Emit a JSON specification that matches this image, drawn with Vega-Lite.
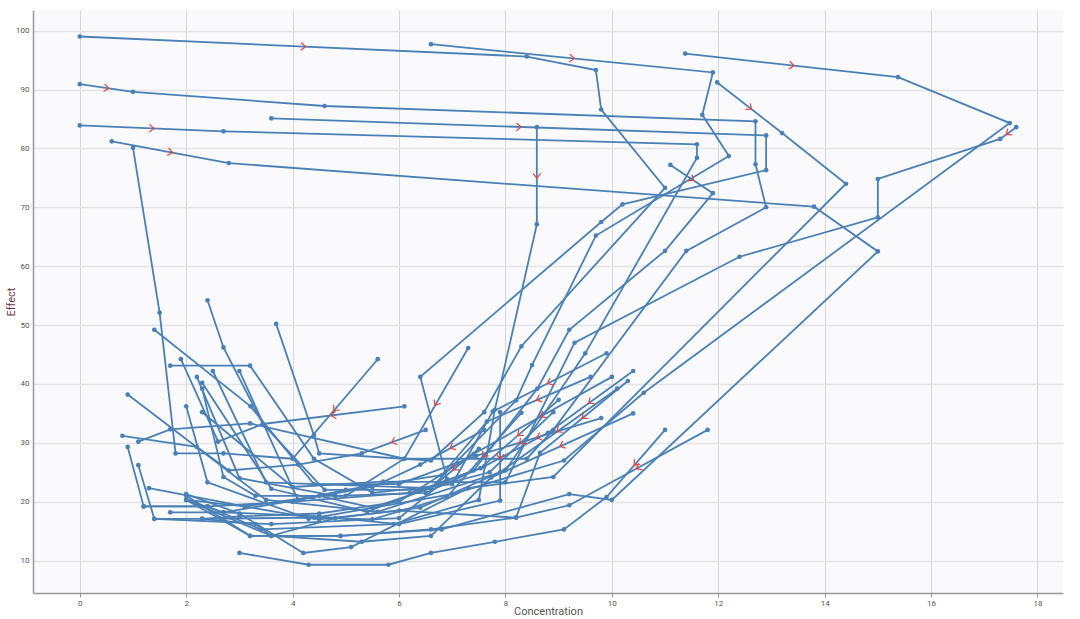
{
"$schema": "https://vega.github.io/schema/vega-lite/v6.json",
"width": 1030, "height": 583,
"autosize": {"type": "none"},
"padding": {"left": 33, "top": 10, "right": 17, "bottom": 26},
"background": "white",
"config": {
  "view": {"fill": "#fafafd", "stroke": null},
  "font": "Roboto",
  "axis": {"labelFont": "Roboto", "titleFont": "Roboto", "titleFontWeight": "normal"}
},
"datasets": {
"traj": [
{"s":"U1","i":0,"c":0,"e":99},{"s":"U1","i":1,"c":8.4,"e":95.6},{"s":"U1","i":2,"c":9.7,"e":93.3},{"s":"U1","i":3,"c":9.8,"e":86.6},{"s":"U1","i":4,"c":11.0,"e":73.3},{"s":"U1","i":5,"c":8.3,"e":46.4},{"s":"U1","i":6,"c":7.6,"e":35.2},{"s":"U1","i":7,"c":6.6,"e":27.0},{"s":"U1","i":8,"c":4.5,"e":28.2},{"s":"U1","i":9,"c":4.4,"e":31.3},{"s":"U1","i":10,"c":3.69,"e":50.2},
{"s":"U2","i":0,"c":6.6,"e":97.7},{"s":"U2","i":1,"c":11.9,"e":92.9},{"s":"U2","i":2,"c":11.7,"e":85.7},{"s":"U2","i":3,"c":12.2,"e":78.7},{"s":"U2","i":4,"c":9.7,"e":65.2},{"s":"U2","i":5,"c":8.5,"e":43.2},{"s":"U2","i":6,"c":8.2,"e":37.2},{"s":"U2","i":7,"c":6.6,"e":22.3},{"s":"U2","i":8,"c":3.5,"e":23.3},{"s":"U2","i":9,"c":2.5,"e":42.2},
{"s":"U3","i":0,"c":11.38,"e":96.1},{"s":"U3","i":1,"c":15.38,"e":92.1},{"s":"U3","i":2,"c":17.48,"e":84.3},{"s":"U3","i":3,"c":10.6,"e":38.5},{"s":"U3","i":4,"c":9.1,"e":27.0},{"s":"U3","i":5,"c":7.0,"e":21.3},{"s":"U3","i":6,"c":4.3,"e":17.1},{"s":"U3","i":7,"c":2.4,"e":23.3},{"s":"U3","i":8,"c":2.0,"e":36.2},
{"s":"U4","i":0,"c":17.6,"e":83.6},{"s":"U4","i":1,"c":17.3,"e":81.6},{"s":"U4","i":2,"c":15.0,"e":74.8},{"s":"U4","i":3,"c":15.0,"e":68.3},{"s":"U4","i":4,"c":12.4,"e":61.6},{"s":"U4","i":5,"c":9.3,"e":47.0},{"s":"U4","i":6,"c":8.0,"e":23.3},{"s":"U4","i":7,"c":5.7,"e":23.4},{"s":"U4","i":8,"c":4.0,"e":22.5},{"s":"U4","i":9,"c":2.3,"e":35.2},
{"s":"U5","i":0,"c":0,"e":90.9},{"s":"U5","i":1,"c":1.0,"e":89.6},{"s":"U5","i":2,"c":4.6,"e":87.2},{"s":"U5","i":3,"c":12.7,"e":84.6},{"s":"U5","i":4,"c":12.7,"e":77.3},{"s":"U5","i":5,"c":12.9,"e":70.0},{"s":"U5","i":6,"c":11.4,"e":62.6},{"s":"U5","i":7,"c":8.9,"e":32.2},{"s":"U5","i":8,"c":8.4,"e":27.3},{"s":"U5","i":9,"c":6.1,"e":27.3},{"s":"U5","i":10,"c":3.2,"e":33.3},{"s":"U5","i":11,"c":1.7,"e":32.3},{"s":"U5","i":12,"c":1.1,"e":30.2},
{"s":"U6","i":0,"c":0,"e":83.9},{"s":"U6","i":1,"c":2.7,"e":82.9},{"s":"U6","i":2,"c":11.6,"e":80.7},{"s":"U6","i":3,"c":11.6,"e":78.4},{"s":"U6","i":4,"c":9.5,"e":45.2},{"s":"U6","i":5,"c":8.0,"e":25.3},{"s":"U6","i":6,"c":5.6,"e":18.3},{"s":"U6","i":7,"c":3.5,"e":20.3},{"s":"U6","i":8,"c":0.9,"e":38.2},
{"s":"U7","i":0,"c":3.6,"e":85.1},{"s":"U7","i":1,"c":12.9,"e":82.2},{"s":"U7","i":2,"c":12.9,"e":76.3},{"s":"U7","i":3,"c":10.2,"e":70.5},{"s":"U7","i":4,"c":9.8,"e":67.5},{"s":"U7","i":5,"c":6.4,"e":41.2},{"s":"U7","i":6,"c":6.9,"e":23.9},{"s":"U7","i":7,"c":6.0,"e":17.2},{"s":"U7","i":8,"c":3.6,"e":16.2},{"s":"U7","i":9,"c":1.4,"e":17.1},{"s":"U7","i":10,"c":1.1,"e":26.2},
{"s":"U8","i":0,"c":8.59,"e":83.6},{"s":"U8","i":1,"c":8.59,"e":67.1},{"s":"U8","i":2,"c":7.8,"e":35.6},{"s":"U8","i":3,"c":7.5,"e":20.3},{"s":"U8","i":4,"c":5.9,"e":16.2},{"s":"U8","i":5,"c":3.4,"e":15.3},{"s":"U8","i":6,"c":2.4,"e":19.2},{"s":"U8","i":7,"c":1.2,"e":19.2},{"s":"U8","i":8,"c":0.9,"e":29.3},
{"s":"U9","i":0,"c":0.6,"e":81.2},{"s":"U9","i":1,"c":2.8,"e":77.5},{"s":"U9","i":2,"c":13.8,"e":70.1},{"s":"U9","i":3,"c":15.0,"e":62.5},{"s":"U9","i":4,"c":10.0,"e":20.3},{"s":"U9","i":5,"c":9.2,"e":21.3},{"s":"U9","i":6,"c":6.8,"e":15.3},{"s":"U9","i":7,"c":4.9,"e":14.2},{"s":"U9","i":8,"c":3.2,"e":14.2},{"s":"U9","i":9,"c":2.0,"e":20.3},
{"s":"U10","i":0,"c":11.98,"e":91.2},{"s":"U10","i":1,"c":13.2,"e":82.6},{"s":"U10","i":2,"c":14.4,"e":74.0},{"s":"U10","i":3,"c":8.9,"e":24.2},{"s":"U10","i":4,"c":7.3,"e":22.3},{"s":"U10","i":5,"c":5.1,"e":12.3},{"s":"U10","i":6,"c":4.2,"e":11.3},{"s":"U10","i":7,"c":3.0,"e":18.0},{"s":"U10","i":8,"c":2.0,"e":21.3},
{"s":"U11","i":0,"c":11.1,"e":77.2},{"s":"U11","i":1,"c":11.9,"e":72.4},{"s":"U11","i":2,"c":11.0,"e":62.6},{"s":"U11","i":3,"c":9.2,"e":49.2},{"s":"U11","i":4,"c":8.6,"e":39.2},{"s":"U11","i":5,"c":7.4,"e":25.3},{"s":"U11","i":6,"c":5.4,"e":18.3},{"s":"U11","i":7,"c":3.6,"e":22.2},{"s":"U11","i":8,"c":2.3,"e":40.2},
{"s":"L1","i":0,"c":6.1,"e":36.2},{"s":"L1","i":1,"c":3.44,"e":33.2},{"s":"L1","i":2,"c":2.6,"e":30.2},{"s":"L1","i":3,"c":1.9,"e":44.2},
{"s":"L20","i":0,"c":5.6,"e":44.2},{"s":"L20","i":1,"c":4.0,"e":27.3},{"s":"L20","i":2,"c":2.7,"e":28.2},{"s":"L20","i":3,"c":1.8,"e":28.2},{"s":"L20","i":4,"c":1.5,"e":52.1},{"s":"L20","i":5,"c":1.0,"e":80.1},
{"s":"L2","i":0,"c":6.5,"e":32.2},{"s":"L2","i":1,"c":5.3,"e":28.2},{"s":"L2","i":2,"c":4.1,"e":26.3},{"s":"L2","i":3,"c":2.8,"e":25.3},{"s":"L2","i":4,"c":2.2,"e":29.3},{"s":"L2","i":5,"c":0.8,"e":31.2},
{"s":"L3","i":0,"c":7.3,"e":46.1},{"s":"L3","i":1,"c":6.1,"e":27.3},{"s":"L3","i":2,"c":5.0,"e":21.0},{"s":"L3","i":3,"c":3.3,"e":21.0},{"s":"L3","i":4,"c":2.7,"e":24.2},{"s":"L3","i":5,"c":2.3,"e":39.2},
{"s":"L4","i":0,"c":7.6,"e":32.2},{"s":"L4","i":1,"c":6.4,"e":26.3},{"s":"L4","i":2,"c":5.5,"e":22.5},{"s":"L4","i":3,"c":4.1,"e":20.3},{"s":"L4","i":4,"c":2.7,"e":18.2},{"s":"L4","i":5,"c":1.7,"e":18.2},
{"s":"L5","i":0,"c":7.5,"e":29.0},{"s":"L5","i":1,"c":6.6,"e":22.3},{"s":"L5","i":2,"c":5.5,"e":19.0},{"s":"L5","i":3,"c":4.5,"e":21.0},{"s":"L5","i":4,"c":3.1,"e":19.2},{"s":"L5","i":5,"c":1.3,"e":22.3},
{"s":"L6","i":0,"c":8.3,"e":35.1},{"s":"L6","i":1,"c":6.9,"e":20.8},{"s":"L6","i":2,"c":5.5,"e":17.0},{"s":"L6","i":3,"c":4.4,"e":17.3},{"s":"L6","i":4,"c":2.3,"e":17.1},{"s":"L6","i":5,"c":1.4,"e":17.1},
{"s":"L7","i":0,"c":7.9,"e":35.2},{"s":"L7","i":1,"c":7.9,"e":20.2},{"s":"L7","i":2,"c":6.0,"e":16.2},{"s":"L7","i":3,"c":4.5,"e":17.5},{"s":"L7","i":4,"c":2.7,"e":18.2},{"s":"L7","i":5,"c":2.0,"e":20.3},
{"s":"L8","i":0,"c":9.0,"e":37.3},{"s":"L8","i":1,"c":7.53,"e":25.7},{"s":"L8","i":2,"c":6.4,"e":22.0},{"s":"L8","i":3,"c":4.6,"e":22.0},{"s":"L8","i":4,"c":3.44,"e":33.2},{"s":"L8","i":5,"c":2.7,"e":46.2},{"s":"L8","i":6,"c":2.4,"e":54.2},
{"s":"L9","i":0,"c":8.9,"e":35.2},{"s":"L9","i":1,"c":7.7,"e":25.0},{"s":"L9","i":2,"c":6.2,"e":21.5},{"s":"L9","i":3,"c":4.0,"e":20.0},{"s":"L9","i":4,"c":2.4,"e":19.2},{"s":"L9","i":5,"c":1.2,"e":19.2},
{"s":"L10","i":0,"c":9.8,"e":34.2},{"s":"L10","i":1,"c":7.45,"e":27.8},{"s":"L10","i":2,"c":6.0,"e":23.0},{"s":"L10","i":3,"c":4.4,"e":23.0},{"s":"L10","i":4,"c":3.21,"e":36.2},{"s":"L10","i":5,"c":1.4,"e":49.2},
{"s":"L11","i":0,"c":9.6,"e":41.2},{"s":"L11","i":1,"c":7.65,"e":33.6},{"s":"L11","i":2,"c":6.8,"e":24.5},{"s":"L11","i":3,"c":5.0,"e":22.0},{"s":"L11","i":4,"c":4.1,"e":20.3},{"s":"L11","i":5,"c":3.0,"e":42.2},
{"s":"L12","i":0,"c":10.0,"e":41.2},{"s":"L12","i":1,"c":7.4,"e":28.1},{"s":"L12","i":2,"c":6.0,"e":20.0},{"s":"L12","i":3,"c":4.5,"e":18.0},{"s":"L12","i":4,"c":3.0,"e":17.5},{"s":"L12","i":5,"c":2.3,"e":17.1},
{"s":"L13","i":0,"c":9.9,"e":45.2},{"s":"L13","i":1,"c":7.76,"e":35.3},{"s":"L13","i":2,"c":7.0,"e":23.0},{"s":"L13","i":3,"c":5.5,"e":21.5},{"s":"L13","i":4,"c":4.4,"e":27.3},{"s":"L13","i":5,"c":3.2,"e":43.1},{"s":"L13","i":6,"c":1.7,"e":43.1},
{"s":"L14","i":0,"c":10.1,"e":39.2},{"s":"L14","i":1,"c":7.9,"e":25.0},{"s":"L14","i":2,"c":6.4,"e":19.0},{"s":"L14","i":3,"c":4.8,"e":17.2},{"s":"L14","i":4,"c":3.6,"e":14.2},{"s":"L14","i":5,"c":3.3,"e":16.2},{"s":"L14","i":6,"c":2.3,"e":17.1},
{"s":"L15","i":0,"c":10.4,"e":35.0},{"s":"L15","i":1,"c":7.73,"e":24.1},{"s":"L15","i":2,"c":6.6,"e":14.2},{"s":"L15","i":3,"c":5.3,"e":13.2},{"s":"L15","i":4,"c":3.6,"e":14.2},{"s":"L15","i":5,"c":2.0,"e":20.3},
{"s":"L16","i":0,"c":10.3,"e":40.5},{"s":"L16","i":1,"c":8.65,"e":28.3},{"s":"L16","i":2,"c":8.2,"e":17.3},{"s":"L16","i":3,"c":6.6,"e":15.3},{"s":"L16","i":4,"c":4.9,"e":14.2},{"s":"L16","i":5,"c":3.2,"e":14.2},{"s":"L16","i":6,"c":2.0,"e":21.0},
{"s":"L17","i":0,"c":10.4,"e":42.2},{"s":"L17","i":1,"c":8.8,"e":31.7},{"s":"L17","i":2,"c":7.6,"e":26.0},{"s":"L17","i":3,"c":6.5,"e":21.5},{"s":"L17","i":4,"c":4.8,"e":21.0},{"s":"L17","i":5,"c":3.0,"e":24.0},{"s":"L17","i":6,"c":2.2,"e":41.2},
{"s":"L18","i":0,"c":11.0,"e":32.2},{"s":"L18","i":1,"c":9.9,"e":20.8},{"s":"L18","i":2,"c":9.1,"e":15.3},{"s":"L18","i":3,"c":7.8,"e":13.2},{"s":"L18","i":4,"c":6.6,"e":11.3},{"s":"L18","i":5,"c":5.8,"e":9.3},{"s":"L18","i":6,"c":4.3,"e":9.3},{"s":"L18","i":7,"c":3.0,"e":11.3},
{"s":"L19","i":0,"c":11.8,"e":32.2},{"s":"L19","i":1,"c":9.2,"e":19.4},{"s":"L19","i":2,"c":8.2,"e":17.3},{"s":"L19","i":3,"c":6.0,"e":18.5},{"s":"L19","i":4,"c":4.5,"e":17.0},{"s":"L19","i":5,"c":3.1,"e":19.2},{"s":"L19","i":6,"c":2.0,"e":20.3}
],
"arrows": [
{"c":4.2,"e":97.3,"a":2.6},{"c":9.25,"e":95.3,"a":5.7},{"c":13.38,"e":94.1,"a":6.3},{"c":17.45,"e":82.6,"a":143.6},
{"c":0.5,"e":90.25,"a":8.2},{"c":1.35,"e":83.4,"a":2.3},{"c":8.25,"e":83.65,"a":2.0},{"c":8.59,"e":75.35,"a":90},
{"c":1.7,"e":79.35,"a":10.5},{"c":12.59,"e":86.9,"a":38},{"c":11.5,"e":74.8,"a":33.6},
{"c":4.77,"e":34.7,"a":172.9},{"c":4.8,"e":35.75,"a":130.5},{"c":5.9,"e":30.2,"a":159.7},{"c":6.7,"e":36.7,"a":119.9},
{"c":7.0,"e":29.25,"a":151.4},{"c":7.05,"e":25.65,"a":140.4},{"c":7.6,"e":27.95,"a":131.5},{"c":7.9,"e":27.7,"a":90},
{"c":8.265,"e":31.5,"a":138.8},{"c":8.3,"e":30.1,"a":136.7},{"c":8.625,"e":31.0,"a":163.2},{"c":8.625,"e":37.4,"a":156.6},
{"c":8.7,"e":34.65,"a":150.8},{"c":8.83,"e":40.25,"a":152.8},{"c":9.0,"e":32.1,"a":144.4},{"c":9.065,"e":29.55,"a":155.6},
{"c":9.475,"e":34.4,"a":140.7},{"c":9.6,"e":36.95,"a":144},{"c":10.45,"e":26.5,"a":131},{"c":10.5,"e":25.8,"a":151.4}
]
},
"layer": [
{
  "data": {"name": "traj"},
  "mark": {"type": "line", "color": "#4a80b5", "strokeWidth": 1.8},
  "encoding": {
    "x": {"field": "c", "type": "quantitative", "scale": {"domain": [-0.88, 18.48], "nice": false, "zero": false},
      "axis": {"title": "Concentration", "values": [0,2,4,6,8,10,12,14,16,18], "labelFontSize": 8, "labelColor": "#555", "tickColor": "#999", "tickSize": 4, "domainColor": "#999", "domainWidth": 1.5, "gridColor": "#d6d6d6", "gridWidth": 1, "titleFontSize": 11, "titleColor": "#555", "titleY": 18, "titleBaseline": "middle", "labelPadding": 2}},
    "y": {"field": "e", "type": "quantitative", "scale": {"domain": [4.5, 103.5], "nice": false, "zero": false},
      "axis": {"title": "Effect", "values": [10,20,30,40,50,60,70,80,90,100], "labelFontSize": 8, "labelColor": "#555", "ticks": false, "domainColor": "#999", "domainWidth": 1.5, "gridColor": "#e4e4e4", "gridWidth": 1.5, "titleFontSize": 11, "titleColor": "#6e3347", "titleX": -22, "titleBaseline": "middle", "labelPadding": 4}},
    "detail": {"field": "s"},
    "order": {"field": "i", "type": "quantitative"}
  }
},
{
  "data": {"name": "traj"},
  "mark": {"type": "circle", "color": "#4a80b5", "size": 22, "opacity": 1},
  "encoding": {
    "x": {"field": "c", "type": "quantitative"},
    "y": {"field": "e", "type": "quantitative"}
  }
},
{
  "data": {"name": "arrows"},
  "mark": {"type": "point", "shape": "M -0.6 -1 L 0.6 0 L -0.6 1", "filled": false, "stroke": "#e8413c", "strokeWidth": 1.2, "size": 60, "opacity": 1},
  "encoding": {
    "x": {"field": "c", "type": "quantitative"},
    "y": {"field": "e", "type": "quantitative"},
    "angle": {"field": "a", "type": "quantitative", "scale": null}
  }
}
]
}
